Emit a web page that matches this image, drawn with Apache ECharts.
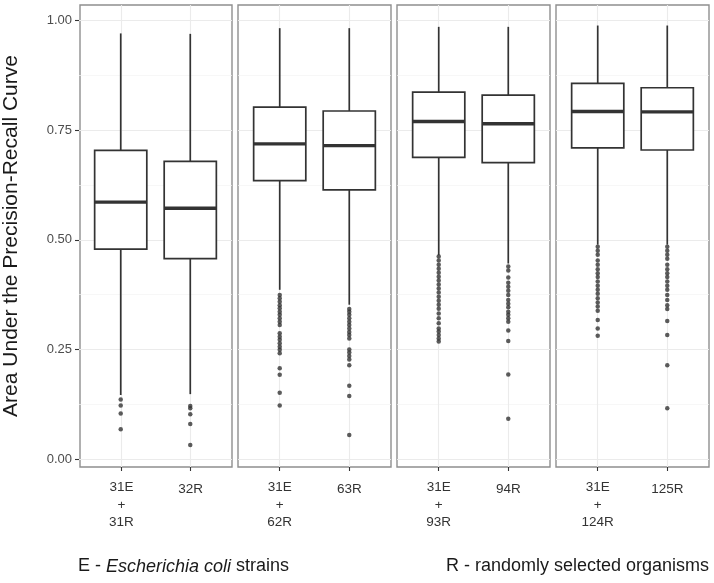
<!DOCTYPE html>
<html>
<head>
<meta charset="utf-8">
<script src="https://cdn.jsdelivr.net/npm/echarts@6/dist/echarts.min.js"></script>
<style>html,body{margin:0;padding:0;background:#fff;}#chart{width:714px;height:583px;}</style>
</head>
<body>
<div id="chart"></div>
<script>
// ---- data ----
const panelLabels = [
  ["31E\n+\n31R", "32R"],
  ["31E\n+\n62R", "63R"],
  ["31E\n+\n93R", "94R"],
  ["31E\n+\n124R", "125R"]
];
const whiskerLow  = [[0.146, 0.148], [0.386, 0.352], [0.465, 0.446], [0.489, 0.489]];
const q1          = [[0.479, 0.457], [0.635, 0.614], [0.688, 0.676], [0.710, 0.705]];
const median      = [[0.586, 0.572], [0.719, 0.715], [0.770, 0.765], [0.793, 0.792]];
const q3          = [[0.704, 0.679], [0.803, 0.794], [0.837, 0.830], [0.857, 0.847]];
const whiskerHigh = [[0.971, 0.970], [0.983, 0.983], [0.986, 0.986], [0.989, 0.989]];
const outliers = [
  [
    [0.136, 0.122, 0.104, 0.068],
    [0.121, 0.116, 0.102, 0.080, 0.032]
  ],
  [
    [0.374, 0.367, 0.359, 0.351, 0.344, 0.336, 0.329, 0.321, 0.313, 0.306,
     0.287, 0.279, 0.272, 0.264, 0.256, 0.249, 0.241, 0.207, 0.192, 0.151, 0.122],
    [0.342, 0.336, 0.329, 0.321, 0.313, 0.306, 0.298, 0.290, 0.283, 0.275,
     0.250, 0.243, 0.235, 0.227, 0.214, 0.167, 0.144, 0.055]
  ],
  [
    [0.462, 0.453, 0.443, 0.434, 0.425, 0.416, 0.407, 0.398, 0.389, 0.380, 0.370,
     0.361, 0.352, 0.343, 0.332, 0.321, 0.310, 0.298, 0.291, 0.283, 0.275, 0.268],
    [0.439, 0.430, 0.414, 0.402, 0.393, 0.384, 0.374, 0.363, 0.354, 0.346, 0.336,
     0.329, 0.321, 0.313, 0.293, 0.269, 0.193, 0.092]
  ],
  [
    [0.484, 0.475, 0.466, 0.453, 0.443, 0.433, 0.424, 0.415, 0.405, 0.395, 0.386,
     0.377, 0.367, 0.357, 0.348, 0.338, 0.317, 0.298, 0.281],
    [0.484, 0.475, 0.466, 0.457, 0.443, 0.433, 0.424, 0.415, 0.405, 0.395, 0.386,
     0.374, 0.363, 0.351, 0.342, 0.315, 0.283, 0.214, 0.116]
  ]
];
const yTitle = "Area Under the Precision-Recall Curve";

// ---- layout / style ----
const FONT = "'Liberation Sans', Arial, Helvetica, sans-serif";
const panelLeft0 = 79, panelPitch = 159, panelW = 153;
const frameTop = 5, frameH = 462;
const plotTop = 20.7, plotH = 438.3;
const ink = '#333333';
const gridMajor = '#ebebeb', gridMinor = '#f4f4f4';

const chart = echarts.init(document.getElementById('chart'), null, {renderer: 'canvas'});

const grids = [], xAxes = [], yAxes = [], series = [];

function renderBox(params, api) {
  const x = api.value(0);
  const lo = api.coord([x, api.value(1)]);
  const b1 = api.coord([x, api.value(2)]);
  const md = api.coord([x, api.value(3)]);
  const b3 = api.coord([x, api.value(4)]);
  const hi = api.coord([x, api.value(5)]);
  const w = api.size([0.75, 0])[0];
  const cx = lo[0];
  const st = {stroke: ink, lineWidth: 1.7, fill: null};
  return {
    type: 'group',
    children: [
      {type: 'line', shape: {x1: cx, y1: hi[1], x2: cx, y2: b3[1]}, style: st},
      {type: 'line', shape: {x1: cx, y1: b1[1], x2: cx, y2: lo[1]}, style: st},
      {type: 'rect', shape: {x: cx - w / 2, y: b3[1], width: w, height: b1[1] - b3[1]},
       style: {stroke: ink, lineWidth: 1.7, fill: '#ffffff'}},
      {type: 'line', shape: {x1: cx - w / 2, y1: md[1], x2: cx + w / 2, y2: md[1]},
       style: {stroke: ink, lineWidth: 3.4}}
    ]
  };
}

for (let p = 0; p < 4; p++) {
  const left = panelLeft0 + p * panelPitch;
  const fi = 2 * p, pi = 2 * p + 1;
  grids.push({left: left, top: frameTop, width: panelW, height: frameH, show: true,
    borderColor: '#8f8f8f', borderWidth: 1.4, backgroundColor: 'transparent', containLabel: false});
  grids.push({left: left, top: plotTop, width: panelW, height: plotH, show: false, containLabel: false});

  const labs = panelLabels[p];
  xAxes.push({
    gridIndex: fi, type: 'value', min: 0.4, max: 2.6, splitNumber: 2,
    axisLine: {show: false},
    axisTick: {show: true, customValues: [1, 2], length: 4, lineStyle: {color: ink, width: 1.1}},
    axisLabel: {
      show: true, customValues: [1, 2], margin: 12,
      formatter: function (v) {
        const s = labs[Math.round(v) - 1] || '';
        return s.indexOf('\n') >= 0 ? '{m|' + s + '}' : '{s|' + s + '}';
      },
      rich: {
        m: {fontFamily: FONT, fontSize: 13.5, lineHeight: 17.5, color: '#333', align: 'center'},
        s: {fontFamily: FONT, fontSize: 13.5, lineHeight: 17.5, color: '#333', padding: [4, 0, 0, 0], align: 'center'}
      }
    },
    splitLine: {show: true, lineStyle: {color: gridMajor, width: 1.1}}
  });
  yAxes.push({
    gridIndex: fi, type: 'value', min: 0, max: 1, show: p === 0,
    axisLine: {show: false}, axisTick: {show: false}, axisLabel: {show: false}, splitLine: {show: false},
    name: p === 0 ? yTitle : '', nameLocation: 'middle', nameGap: 58, nameRotate: 90,
    nameTextStyle: {fontFamily: FONT, fontSize: 21, color: '#1a1a1a'}
  });
  xAxes.push({gridIndex: pi, type: 'value', min: 0.4, max: 2.6, show: false,
    splitLine: {show: false}});
  yAxes.push({
    gridIndex: pi, type: 'value', min: 0, max: 1, interval: 0.25,
    axisLine: {show: false},
    axisTick: {show: p === 0, length: 4, lineStyle: {color: ink, width: 1.1}},
    axisLabel: {show: p === 0, margin: 7, color: '#4d4d4d', fontFamily: FONT, fontSize: 13,
      formatter: function (v) { return v.toFixed(2); }},
    splitLine: {show: true, lineStyle: {color: gridMajor, width: 1.1}},
    minorTick: {show: false, splitNumber: 2},
    minorSplitLine: {show: true, lineStyle: {color: gridMinor, width: 0.7}}
  });

  const boxData = [0, 1].map(function (k) {
    return [k + 1, whiskerLow[p][k], q1[p][k], median[p][k], q3[p][k], whiskerHigh[p][k]];
  });
  series.push({
    type: 'custom', xAxisIndex: pi, yAxisIndex: pi, renderItem: renderBox,
    encode: {x: 0, y: [1, 2, 3, 4, 5]}, data: boxData, z: 3, silent: true
  });
  const pts = [];
  for (let k = 0; k < 2; k++) {
    outliers[p][k].forEach(function (v) { pts.push([k + 1, v]); });
  }
  series.push({
    type: 'scatter', xAxisIndex: pi, yAxisIndex: pi, data: pts, symbol: 'circle',
    symbolSize: 4.5, itemStyle: {color: ink}, z: 4, silent: true
  });
}

chart.setOption({
  animation: false,
  backgroundColor: '#ffffff',
  grid: grids,
  xAxis: xAxes,
  yAxis: yAxes,
  title: [
    {
      left: 78, top: 556, padding: 0,
      text: '{n|E - }{i|Escherichia coli}{n| strains}',
      textStyle: {
        fontWeight: 'normal',
        rich: {
          n: {fontFamily: FONT, fontSize: 18, fontWeight: 'normal', color: '#1a1a1a', lineHeight: 21},
          i: {fontFamily: FONT, fontSize: 18, fontWeight: 'normal', fontStyle: 'italic', color: '#1a1a1a', lineHeight: 21}
        }
      }
    },
    {
      right: 5, top: 556, padding: 0,
      text: 'R - randomly selected organisms',
      textStyle: {fontFamily: FONT, fontSize: 18, fontWeight: 'normal', color: '#1a1a1a', lineHeight: 21}
    }
  ],
  series: series
});
</script>
</body>
</html>
